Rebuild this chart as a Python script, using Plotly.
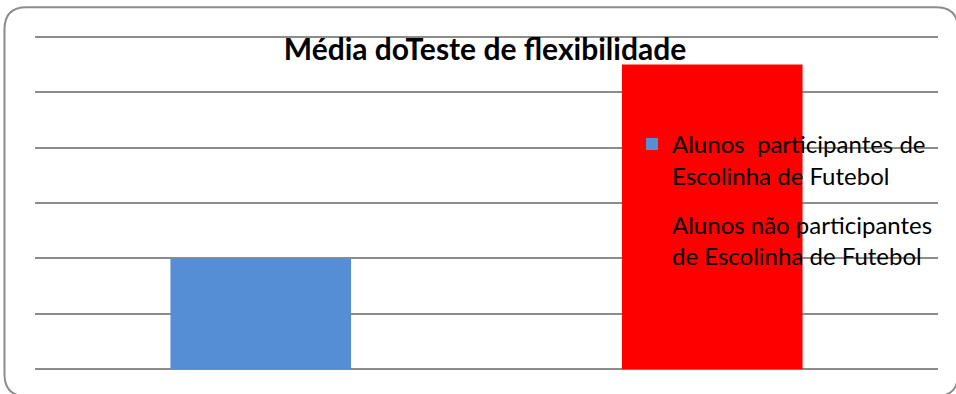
import plotly.graph_objects as go

# Chart data
groups = ["Participantes", "Não participantes"]
series_names = [
    "Alunos  participantes de<br>Escolinha de Futebol",
    "Alunos não participantes<br>de Escolinha de Futebol",
]
mean_values = [2.0, 5.5]
bar_colors = ["#558ED5", "#FF0000"]

W, H = 956, 394
Y_MIN, Y_MAX, PAD = 0, 6, 0.05
UNIT = 332 / (Y_MAX - Y_MIN)          # pixels per unit on the value axis
L, R = 35, 18
T, B = 37 - PAD * UNIT, 25 - PAD * UNIT
pw, ph = W - L - R, H - T - B


def px_x(x):
    return (x - L) / pw


def px_y(y):
    return (H - B - y) / ph


fig = go.Figure()
for i, (g, name, val, col) in enumerate(zip(groups, series_names, mean_values, bar_colors)):
    fig.add_trace(go.Bar(x=[g], y=[val], name=name, legendgroup=f"g{i}",
                         marker=dict(color=col, line=dict(width=0))))

# Rounded frame around the chart
x0, x1, y0, y1, r = 4.5, 958, 7.5, 396, 22
path = (
    f"M {px_x(x0)},{px_y(y0 + r)} "
    f"Q {px_x(x0)},{px_y(y0)} {px_x(x0 + r)},{px_y(y0)} "
    f"L {px_x(x1 - r)},{px_y(y0)} "
    f"Q {px_x(x1)},{px_y(y0)} {px_x(x1)},{px_y(y0 + r)} "
    f"L {px_x(x1)},{px_y(y1 - r)} "
    f"Q {px_x(x1)},{px_y(y1)} {px_x(x1 - r)},{px_y(y1)} "
    f"L {px_x(x0 + r)},{px_y(y1)} "
    f"Q {px_x(x0)},{px_y(y1)} {px_x(x0)},{px_y(y1 - r)} Z"
)
fig.add_shape(type="path", path=path, xref="paper", yref="paper",
              line=dict(color="#8C8C8C", width=2), fillcolor="rgba(0,0,0,0)", layer="below")

fig.update_layout(
    width=W, height=H,
    margin=dict(l=L, r=R, t=T, b=B),
    paper_bgcolor="white", plot_bgcolor="white",
    barmode="overlay", bargap=0.6,
    title=dict(text="<b>Média doTeste de flexibilidade</b>", x=485 / W, xanchor="center",
               y=1 - 49 / H, yanchor="middle",
               font=dict(family="Lato", size=30, color="black")),
    xaxis=dict(showticklabels=False, showgrid=False, showline=False, zeroline=False, ticks=""),
    yaxis=dict(range=[Y_MIN - PAD, Y_MAX + PAD], dtick=1, showticklabels=False, showgrid=True,
               gridcolor="#8C8C8C", gridwidth=1.5, zeroline=False, showline=False, ticks=""),
    legend=dict(x=px_x(632), y=px_y(122), xanchor="left", yanchor="top",
                bgcolor="rgba(0,0,0,0)", font=dict(family="Lato", size=24, color="black"),
                traceorder="grouped", tracegroupgap=15, valign="top"),
    showlegend=True,
)

fig.write_html("out.html")
